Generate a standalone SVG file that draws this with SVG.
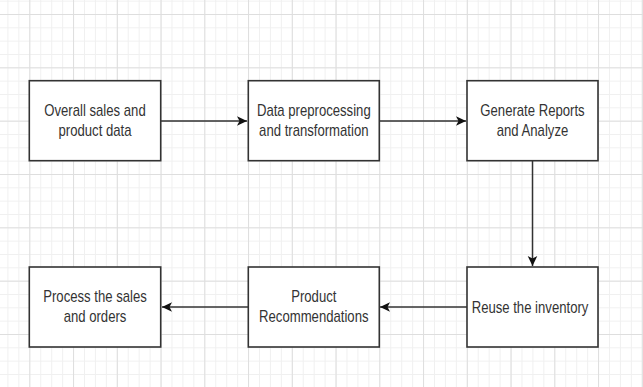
<svg xmlns="http://www.w3.org/2000/svg" width="643" height="387" viewBox="0 0 643 387">
<style>
.box{fill:#fff;stroke:#333;stroke-width:1.6}
.lbl{font-family:"Liberation Sans",Arial,sans-serif;font-size:12px;fill:#333;text-anchor:middle}
.edge{fill:none;stroke:#333;stroke-width:1.5}
</style>
<defs>
<pattern id="minor" patternUnits="userSpaceOnUse" x="29.3" y="14" width="10.9375" height="13.3333">
<path d="M0,0.5 H10.9375 M0.5,0 V13.3333" fill="none" stroke="#f0f0f0" stroke-width="1"/>
</pattern>
<pattern id="major" patternUnits="userSpaceOnUse" x="29.3" y="14" width="43.75" height="53.3333">
<path d="M0,0.5 H43.75 M0.5,0 V53.3333" fill="none" stroke="#dedede" stroke-width="1"/>
</pattern>
<marker id="arr" markerUnits="userSpaceOnUse" markerWidth="12" markerHeight="12" viewBox="-11 -6 12 12" refX="0" refY="0" orient="auto">
<path d="M0,0 L-10,-4.8 L-7.5,0 L-10,4.8 Z" fill="#111"/>
</marker>
</defs>
<rect width="643" height="387" fill="#fff"/>
<rect width="643" height="387" fill="url(#minor)"/>
<rect width="643" height="387" fill="url(#major)"/>
<g id="connectors">
<path class="edge" d="M161,121 H247" marker-end="url(#arr)"/>
<path class="edge" d="M379,121 H466" marker-end="url(#arr)"/>
<path class="edge" d="M532.5,161 V266" marker-end="url(#arr)"/>
<path class="edge" d="M467,307 H380" marker-end="url(#arr)"/>
<path class="edge" d="M248,307 H162" marker-end="url(#arr)"/>
</g>
<g id="n1">
<rect class="box" x="29.3" y="80.7" width="131.4" height="80"/>
<text class="lbl" transform="translate(95,121) scale(1.094,1.333)"><tspan x="0" y="-3.4">Overall sales and</tspan><tspan x="0" y="11.6">product data</tspan></text>
</g>
<g id="n2">
<rect class="box" x="248.3" y="80.7" width="131" height="80"/>
<text class="lbl" transform="translate(313.8,121) scale(1.094,1.333)"><tspan x="0" y="-3.4">Data preprocessing</tspan><tspan x="0" y="11.6">and transformation</tspan></text>
</g>
<g id="n3">
<rect class="box" x="467" y="80.7" width="131" height="80"/>
<text class="lbl" transform="translate(532.5,121) scale(1.094,1.333)"><tspan x="0" y="-3.4">Generate Reports</tspan><tspan x="0" y="11.6">and Analyze</tspan></text>
</g>
<g id="n4">
<rect class="box" x="467" y="267" width="131" height="80"/>
<text class="lbl" transform="translate(530,307) scale(1.094,1.333)"><tspan x="0" y="4.2">Reuse the inventory</tspan></text>
</g>
<g id="n5">
<rect class="box" x="248.3" y="267" width="131" height="80"/>
<text class="lbl" transform="translate(313.8,307) scale(1.094,1.333)"><tspan x="0" y="-3.4">Product</tspan><tspan x="0" y="11.6">Recommendations</tspan></text>
</g>
<g id="n6">
<rect class="box" x="29.3" y="267" width="131.4" height="80"/>
<text class="lbl" transform="translate(95,307) scale(1.094,1.333)"><tspan x="0" y="-3.4">Process the sales</tspan><tspan x="0" y="11.6">and orders</tspan></text>
</g>
</svg>
